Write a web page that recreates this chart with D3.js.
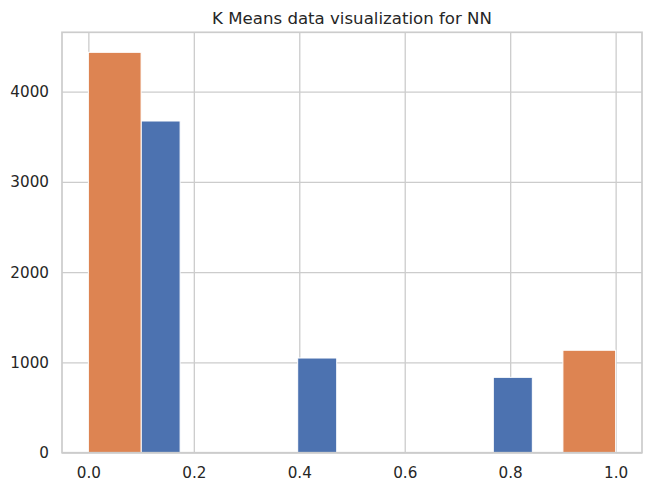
<!DOCTYPE html>
<html><head><meta charset="utf-8">
<script src="https://cdn.jsdelivr.net/npm/d3@7"></script>
<style>body{margin:0;background:#fff}svg{display:block}text{font-family:"DejaVu Sans",sans-serif;fill:#262626}</style>
</head><body><svg id="c" width="651" height="491"></svg>
<script>
const title = "K Means data visualization for NN";
const xTicks = [0.0, 0.2, 0.4, 0.6, 0.8, 1.0];
const yTicks = [0, 1000, 2000, 3000, 4000];
// blue series: histogram bin edges and counts
const blueEdges = [0.1, 0.174, 0.248, 0.323, 0.397, 0.471, 0.545, 0.619, 0.694, 0.768, 0.842];
const blueCounts = [3675, 0, 0, 0, 1049, 0, 0, 0, 0, 835];
// orange series
const orangeEdges = [0.0, 0.1, 0.2, 0.3, 0.4, 0.5, 0.6, 0.7, 0.8, 0.9, 1.0];
const orangeCounts = [4436, 0, 0, 0, 0, 0, 0, 0, 0, 1135];

const svg = d3.select("#c");
const L = 62, R = 642, T = 32.3, B = 452.7;
const x = d3.scaleLinear().domain([-0.05, 1.05]).range([L, R]);
const yMax = d3.max(orangeCounts.concat(blueCounts)) * 1.05;
const y = d3.scaleLinear().domain([0, yMax]).range([B, T]);

// grid
const gx = svg.append("g").attr("transform", `translate(0,${B})`)
  .call(d3.axisBottom(x).tickValues(xTicks).tickSize(-(B - T)).tickPadding(13).tickFormat(d3.format(".1f")));
const gy = svg.append("g").attr("transform", `translate(${L},0)`)
  .call(d3.axisLeft(y).tickValues(yTicks).tickSize(-(R - L)).tickPadding(13).tickFormat(d3.format("d")));
[gx, gy].forEach(g => {
  g.select(".domain").remove();
  g.selectAll(".tick line").attr("stroke", "#cccccc").attr("stroke-width", 1.3);
  g.selectAll(".tick text").attr("font-size", "15.2px").style("fill", "#262626");
});
gx.selectAll(".tick text").attr("dy", "0.71em").attr("y", 15);

function bars(edges, counts, color) {
  const d = counts.map((c, i) => ({x0: edges[i], x1: edges[i + 1], c}));
  svg.append("g").selectAll("rect").data(d).join("rect")
    .attr("x", e => x(e.x0)).attr("width", e => x(e.x1) - x(e.x0))
    .attr("y", e => y(e.c)).attr("height", e => y(0) - y(e.c))
    .attr("fill", color).attr("stroke", e => e.c > 0 ? "#ffffff" : "none").attr("stroke-width", 1);
}
bars(blueEdges, blueCounts, "#4c72b0");
bars(orangeEdges, orangeCounts, "#dd8452");

// frame
svg.append("rect").attr("x", L).attr("y", T).attr("width", R - L).attr("height", B - T)
  .attr("fill", "none").attr("stroke", "#cccccc").attr("stroke-width", 1.7);

svg.append("text").attr("x", (L + R) / 2).attr("y", 24).attr("text-anchor", "middle")
  .attr("font-size", "16.6px").text(title);
</script></body></html>
